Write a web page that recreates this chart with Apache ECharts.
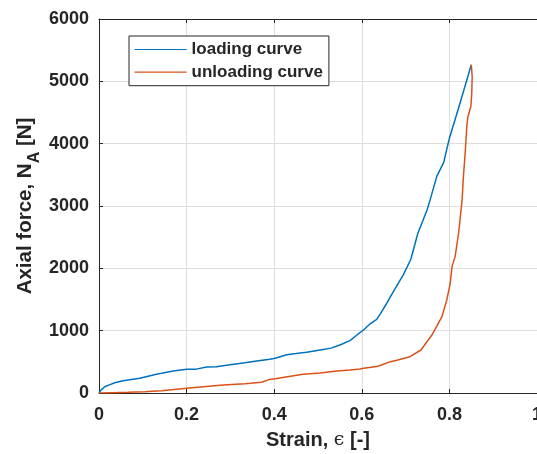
<!DOCTYPE html>
<html>
<head>
<meta charset="utf-8">
<script src="https://cdn.jsdelivr.net/npm/echarts@6/dist/echarts.min.js"></script>
<style>
html,body{margin:0;padding:0;background:#fff;}
#c{width:537px;height:454px;}
</style>
</head>
<body>
<div id="c"></div>
<script>
// Strain values and axial force [N]
const loadingStrain = [0,0.005,0.013,0.025,0.036,0.055,0.066,0.093,0.105,0.131,0.143,0.169,0.2,0.222,0.246,0.268,0.295,0.333,0.36,0.39,0.402,0.429,0.45,0.474,0.505,0.53,0.55,0.573,0.589,0.604,0.619,0.634,0.642,0.657,0.673,0.695,0.712,0.728,0.749,0.756,0.771,0.787,0.8,0.822,0.85];
const loadingForce  = [0,50,101,135,165,195,209,236,258,300,316,353,382,383,417,420,449,486,514,541,557,615,632,653,690,720,770,840,931,1011,1110,1180,1265,1440,1640,1900,2146,2563,2937,3098,3472,3700,4088,4596,5265];

const unloadingStrain = [0.85,0.852,0.851,0.849,0.842,0.84,0.836,0.832,0.829,0.821,0.813,0.806,0.802,0.794,0.783,0.779,0.76,0.735,0.71,0.68,0.665,0.642,0.634,0.604,0.596,0.573,0.543,0.505,0.466,0.43,0.402,0.39,0.371,0.345,0.333,0.284,0.257,0.2,0.143,0.131,0.105,0.066,0.03,0];
const unloadingForce  = [5265,5077,4800,4596,4425,4302,3847,3472,3098,2563,2188,2027,1761,1493,1225,1172,930,690,583,525,503,440,425,396,385,369,353,320,300,262,228,218,172,156,150,128,112,75,37,33,21,11,5,0];

const seriesNames = ['loading curve','unloading curve'];
const xTickLabels = ['0','0.2','0.4','0.6','0.8','1'];
const yTickLabels = ['0','1000','2000','3000','4000','5000','6000'];

const pair = (xs, ys) => xs.map((x, i) => [x, ys[i]]);
const txt = '#262626';
const font = 'Liberation Sans, Arial, sans-serif';

const chart = echarts.init(document.getElementById('c'));
chart.setOption({
  animation: false,
  backgroundColor: '#fff',
  textStyle: {fontFamily: font},
  grid: {left: 99, right: 0, top: 19, bottom: 61, outerBoundsMode: 'none', containLabel: false},
  legend: {
    left: 129, top: 36,
    orient: 'vertical',
    itemWidth: 52, itemHeight: 17, itemGap: 5.7,
    padding: [5, 6, 5, 5],
    borderColor: txt, borderWidth: 1,
    backgroundColor: '#fff',
    itemStyle: {color: 'rgba(0,0,0,0)', borderWidth: 0, opacity: 0},
    lineStyle: {width: 1.2},
    textStyle: {fontSize: 17, fontWeight: 'bold', color: txt, fontFamily: font},
    data: seriesNames
  },
  xAxis: [{
    type: 'value', min: 0, max: 1, interval: 0.2,
    name: '{t|Strain, }{e|ϵ}{t| [-]}',
    nameLocation: 'middle', nameGap: 37, nameMoveOverlap: false,
    nameTextStyle: {
      color: txt,
      rich: {
        t: {fontSize: 20, fontWeight: 'bold', color: txt, fontFamily: font},
        e: {fontSize: 19, fontWeight: 'normal', color: txt, fontFamily: 'DejaVu Serif'}
      }
    },
    axisLine: {show: true, lineStyle: {color: txt, width: 1}},
    axisTick: {show: true, inside: true, length: 4, lineStyle: {color: txt}},
    axisLabel: {
      margin: 13, fontSize: 18, fontWeight: 'bold', color: txt, fontFamily: font,
      formatter: v => xTickLabels[Math.round(v / 0.2)]
    },
    splitLine: {show: true, lineStyle: {color: '#dedede', width: 1}}
  }, {
    type: 'value', min: 0, max: 1, interval: 0.2, position: 'top',
    axisLine: {show: true, onZero: false, lineStyle: {color: txt, width: 1}},
    axisTick: {show: true, inside: true, length: 4, lineStyle: {color: txt}},
    axisLabel: {show: false},
    splitLine: {show: false}
  }],
  yAxis: {
    type: 'value', min: 0, max: 6000, interval: 1000,
    name: '{t|Axial force, N}{s|A}{t| [N]}',
    nameLocation: 'middle', nameRotate: 90, nameGap: 44, nameMoveOverlap: false,
    nameTextStyle: {
      color: txt,
      rich: {
        t: {fontSize: 20.5, fontWeight: 'bold', color: txt, fontFamily: font, lineHeight: 20, verticalAlign: 'top'},
        s: {fontSize: 16, fontWeight: 'bold', color: txt, fontFamily: font, lineHeight: 40, verticalAlign: 'middle'}
      }
    },
    axisLine: {show: true, lineStyle: {color: txt, width: 1}},
    axisTick: {show: true, inside: true, length: 4, lineStyle: {color: txt}},
    axisLabel: {
      margin: 10, fontSize: 18, fontWeight: 'bold', color: txt, fontFamily: font,
      formatter: v => yTickLabels[Math.round(v / 1000)]
    },
    splitLine: {show: true, lineStyle: {color: '#dedede', width: 1}}
  },
  series: [{
    name: seriesNames[0], type: 'line', symbol: 'none', smooth: false,
    data: pair(loadingStrain, loadingForce),
    lineStyle: {color: '#0072BD', width: 1.5},
    itemStyle: {color: '#0072BD'}
  }, {
    name: seriesNames[1], type: 'line', symbol: 'none', smooth: false,
    data: pair(unloadingStrain, unloadingForce),
    lineStyle: {color: '#D95319', width: 1.5},
    itemStyle: {color: '#D95319'}
  }]
});
</script>
</body>
</html>
